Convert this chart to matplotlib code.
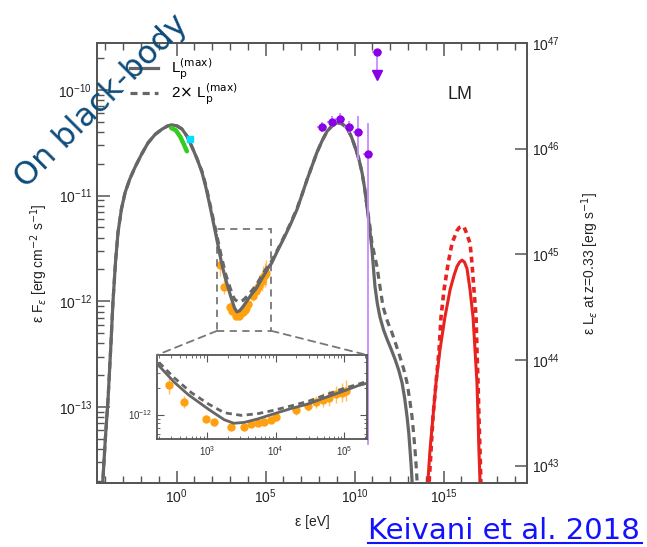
"""
SED of the LM model (Keivani et al. 2018) with the black-body bump.
Values read off the reference picture, stored as log10 values.
"""
import matplotlib
matplotlib.use("Agg")
import matplotlib.pyplot as plt
import numpy as np
from matplotlib.lines import Line2D
from matplotlib.patches import Rectangle, ConnectionPatch
from matplotlib.ticker import FixedLocator, NullLocator, LogLocator, LogFormatterMathtext, NullFormatter

plt.rcParams["font.family"] = ["Liberation Sans", "DejaVu Sans"]

# ---- model curves (log10 eV, log10 erg cm^-2 s^-1) ----
solid_logE = [-4.22, -4.13, -4.00, -3.85, -3.70, -3.57, -3.43, -3.29, -3.10, -2.89, -2.62, -2.33,
              -1.97, -1.60, -1.20, -0.81, -0.50, -0.25, 0.03, 0.31, 0.60, 0.87, 1.15, 1.43,
              1.66, 1.88, 2.10, 2.33, 2.52, 2.72, 3.02, 3.25, 3.39, 3.54, 3.74, 3.98, 4.23,
              4.47, 4.71, 4.96, 5.20, 5.34, 5.65, 5.98, 6.38, 6.77, 7.05, 7.33, 7.61, 7.89,
              8.18, 8.46, 8.74, 9.02, 9.30, 9.58, 9.82, 10.03, 10.24, 10.42, 10.57, 10.70,
              10.85, 10.98, 11.07, 11.15, 11.28, 11.43, 11.63, 11.83, 12.05, 12.28, 12.48,
              12.67, 12.82, 12.95, 13.05, 13.12, 13.18, 13.23, 13.27]
solid_logF = [-13.90, -13.67, -13.30, -12.93, -12.45, -12.00, -11.63, -11.35, -11.13, -10.97, -10.84, -10.73,
              -10.61, -10.50, -10.42, -10.37, -10.34, -10.33, -10.34, -10.37, -10.44, -10.54, -10.65, -10.78,
              -10.93, -11.10, -11.28, -11.47, -11.63, -11.77, -11.94, -12.06, -12.10, -12.09, -12.05, -11.99, -11.93,
              -11.88, -11.81, -11.74, -11.67, -11.64, -11.53, -11.42, -11.28, -11.13, -10.99, -10.85, -10.72, -10.59,
              -10.48, -10.39, -10.34, -10.31, -10.32, -10.36, -10.44, -10.54, -10.65, -10.78, -10.93, -11.10,
              -11.31, -11.51, -11.70, -11.86, -12.02, -12.15, -12.27, -12.36, -12.45, -12.55, -12.65,
              -12.77, -12.92, -13.09, -13.25, -13.41, -13.55, -13.69, -13.90]

dashed_logE = [-4.22, -4.13, -4.00, -3.85, -3.70, -3.57, -3.43, -3.29, -3.10, -2.89, -2.62, -2.33,
               -1.97, -1.60, -1.20, -0.81, -0.50, -0.25, 0.03, 0.31, 0.60, 0.87, 1.15, 1.43,
               1.66, 1.88, 2.10, 2.33, 2.52, 2.77, 3.02, 3.25, 3.50, 3.74, 3.98, 4.23, 4.47,
               4.71, 4.96, 5.34, 5.65, 5.98, 6.38, 6.77, 7.05, 7.33, 7.61, 7.89, 8.18, 8.46,
               8.74, 9.02, 9.30, 9.58, 9.82, 10.03, 10.24, 10.42, 10.57, 10.70, 10.85, 10.98,
               11.12, 11.26, 11.43, 11.60, 11.85, 12.11, 12.33, 12.56, 12.76, 12.95, 13.10,
               13.23, 13.32, 13.40, 13.46, 13.51, 13.56]
dashed_logF = [-13.90, -13.67, -13.30, -12.93, -12.45, -12.00, -11.63, -11.35, -11.13, -10.97, -10.84, -10.73,
               -10.61, -10.50, -10.42, -10.37, -10.34, -10.33, -10.34, -10.37, -10.44, -10.54, -10.65, -10.77,
               -10.91, -11.08, -11.25, -11.43, -11.58, -11.75, -11.88, -11.98, -12.01, -11.99, -11.95, -11.90, -11.85,
               -11.78, -11.71, -11.62, -11.52, -11.41, -11.27, -11.12, -10.99, -10.85, -10.72, -10.59, -10.48, -10.39,
               -10.34, -10.31, -10.32, -10.36, -10.44, -10.54, -10.65, -10.78, -10.93, -11.10, -11.27, -11.45,
               -11.56, -11.67, -11.86, -12.05, -12.19, -12.30, -12.41, -12.53, -12.64, -12.77, -12.93,
               -13.09, -13.25, -13.41, -13.55, -13.69, -13.90]

# black-body (red) component
bb_solid_logE = [14.05, 14.13, 14.24, 14.41, 14.58, 14.80, 15.08, 15.37, 15.60, 15.76, 15.90, 16.04,
                 16.18, 16.32, 16.49, 16.66, 16.77, 16.88, 16.94, 16.99, 17.05, 17.08]
bb_solid_logF = [-13.90, -13.69, -13.41, -13.09, -12.77, -12.46, -12.15, -11.89, -11.75, -11.67, -11.63, -11.61,
                 -11.63, -11.69, -11.89, -12.15, -12.46, -12.77, -13.09, -13.41, -13.69, -13.90]
bb_dashed_logE = [14.12, 14.19, 14.30, 14.41, 14.58, 14.75, 14.86, 15.03, 15.26, 15.48, 15.76, 15.90, 16.04,
                  16.16, 16.26, 16.49, 16.60, 16.71, 16.83, 16.88, 16.94, 16.99, 17.05, 17.10, 17.13]
bb_dashed_logF = [-13.90, -13.72, -13.41, -13.09, -12.77, -12.46, -12.15, -11.89, -11.64, -11.45, -11.33, -11.30, -11.29,
                  -11.30, -11.34, -11.45, -11.64, -11.89, -12.15, -12.46, -12.77, -13.09, -13.41, -13.72, -13.90]

# ---- data points ----
xrt_logE = [2.45, 2.66, 2.99, 3.10, 3.35, 3.53, 3.64, 3.74, 3.83, 3.93, 4.01, 4.30, 4.47,
            4.59, 4.69, 4.78, 4.88, 4.96, 5.03]
xrt_logF = [-11.66, -11.86, -12.05, -12.09, -12.14, -12.14, -12.11, -12.10, -12.08, -12.06, -12.03, -11.95, -11.90,
            -11.86, -11.83, -11.81, -11.77, -11.75, -11.73]
xrt_err = [0.10, 0.07, 0.04, 0.04, 0.03, 0.03, 0.03, 0.03, 0.03, 0.03, 0.04, 0.05, 0.06,
           0.07, 0.08, 0.09, 0.10, 0.11, 0.12]

uvot_logE = [-0.30, -0.05, 0.20, 0.40, 0.58]
uvot_logF = [-10.36, -10.38, -10.44, -10.51, -10.58]
uv2_logE = [0.75]
uv2_logF = [-10.46]

lat_logE = [8.17, 8.74, 9.19, 9.69, 10.20, 10.76]
lat_logF = [-10.35, -10.30, -10.27, -10.35, -10.40, -10.61]
lat_err_lo = [0.05, 0.05, 0.05, 0.06, 0.26, 2.75]
lat_err_hi = [0.05, 0.05, 0.05, 0.06, 0.15, 0.30]
lat_ul_logE = [11.26]
lat_ul_logF = [-9.64]

GRAY = "#666666"
RED = "#e8231f"
PURPLE = "#8a00e6"
LPURPLE = "#c68cff"
ORANGE = "#ffa010"
FRAME = "#555555"


def p(v):
    return 10.0 ** np.asarray(v)


def draw_sed(a, lw=2.3, ms=5):
    # orange X-ray points below the curves
    a.errorbar(p(xrt_logE), p(xrt_logF),
               yerr=[p(xrt_logF) - p(np.array(xrt_logF) - xrt_err), p(np.array(xrt_logF) + xrt_err) - p(xrt_logF)],
               fmt="o", color=ORANGE, ecolor="#ffc060", ms=ms, elinewidth=1, zorder=2)
    a.plot(p(solid_logE), p(solid_logF), color=GRAY, lw=lw, zorder=4)
    a.plot(p(dashed_logE), p(dashed_logF), color=GRAY, lw=lw, ls=(0, (2.2, 1.6)), zorder=4)


fig = plt.figure(figsize=(6.47, 5.47), dpi=100)
ax = fig.add_axes([0.1499, 0.117, 0.6646, 0.8044])
ax.set_xscale("log")
ax.set_yscale("log")
ax.set_xlim(10 ** -4.47, 10 ** 19.69)
ax.set_ylim(10 ** -13.72, 10 ** -9.555)

draw_sed(ax)
ax.plot(p(uvot_logE), p(uvot_logF), "-", color="#33cc22", lw=3.2, zorder=5, solid_capstyle="round")
ax.plot(p(uv2_logE), p(uv2_logF), "s", color="#00dfff", ms=4.5, zorder=5)

ax.plot(p(bb_solid_logE), p(bb_solid_logF), color=RED, lw=2.2, zorder=4)
ax.plot(p(bb_dashed_logE), p(bb_dashed_logF), color=RED, lw=2.6, ls=(0, (1.6, 1.2)), zorder=4)

lat_x = p(lat_logE)
lat_y = p(lat_logF)
ax.errorbar(lat_x, lat_y,
            xerr=[lat_x - p(np.array(lat_logE) - 0.3), p(np.array(lat_logE) + 0.3) - lat_x],
            yerr=[lat_y - p(np.array(lat_logF) - lat_err_lo), p(np.array(lat_logF) + lat_err_hi) - lat_y],
            fmt="o", color=PURPLE, ecolor=LPURPLE, ms=5, elinewidth=1.3, zorder=6)
ul_x = p(lat_ul_logE)
ul_y = p(lat_ul_logF)
ax.errorbar(ul_x, ul_y, xerr=[ul_x - p(np.array(lat_ul_logE) - 0.3), p(np.array(lat_ul_logE) + 0.3) - ul_x],
            fmt="o", color=PURPLE, ecolor=LPURPLE, ms=5, elinewidth=1.3, zorder=6)
ax.plot([ul_x[0], ul_x[0]], [ul_y[0], ul_y[0] * 10 ** -0.2], color=LPURPLE, lw=1.3, zorder=6)
ax.plot(ul_x, ul_y * 10 ** -0.22, "v", color=PURPLE, ms=6.5, zorder=6)

# zoom box + connectors
ins_x = (10 ** 2.27, 10 ** 5.33)
ins_y = (10 ** -12.28, 10 ** -11.32)
ax.add_patch(Rectangle((ins_x[0], ins_y[0]), ins_x[1] - ins_x[0], ins_y[1] - ins_y[0],
                       fill=False, ec="#777777", lw=1.3, ls=(0, (4, 3)), zorder=3))

# ticks / frame
for s in ax.spines.values():
    s.set_color(FRAME)
    s.set_linewidth(1.3)
ax.xaxis.set_major_locator(FixedLocator([1e0, 1e5, 1e10, 1e15]))
ax.xaxis.set_major_formatter(LogFormatterMathtext())
ax.xaxis.set_minor_locator(FixedLocator([10.0 ** k for k in range(-4, 20)]))
ax.xaxis.set_minor_formatter(NullFormatter())
ax.yaxis.set_major_locator(LogLocator(base=10, numticks=20))
ax.yaxis.set_minor_locator(LogLocator(base=10, subs=np.arange(2, 10), numticks=20))
ax.yaxis.set_minor_formatter(NullFormatter())
ax.tick_params(which="both", direction="in", top=True, right=False, colors=FRAME, labelcolor="#222222",
               labelsize=10)
ax.tick_params(which="major", length=9, width=1.1)
ax.tick_params(which="minor", length=5, width=1.0)
ax.set_xlabel("ε [eV]", fontsize=10, color="#222222", labelpad=6)
ax.set_ylabel(r"ε F$_\varepsilon$ [erg cm$^{-2}$ s$^{-1}$]", fontsize=10, color="#222222", labelpad=6)

# right axis (luminosity at z=0.33)
axr = ax.twinx()
axr.set_yscale("log")
axr.set_ylim(10 ** (-13.72 + 56.555), 10 ** (-9.555 + 56.555))
axr.yaxis.set_major_locator(FixedLocator([1e43, 1e44, 1e45, 1e46, 1e47]))
axr.yaxis.set_major_formatter(LogFormatterMathtext())
axr.yaxis.set_minor_locator(NullLocator())
axr.tick_params(direction="in", length=9, width=1.1, colors=FRAME, labelcolor="#222222", labelsize=10)
for s in axr.spines.values():
    s.set_color(FRAME)
    s.set_linewidth(1.3)
axr.set_ylabel(r"ε L$_\varepsilon$ at z=0.33 [erg s$^{-1}$]", fontsize=10, color="#222222", labelpad=14)

ax.text(0.844, 0.882, "LM", transform=ax.transAxes, ha="center", va="center", fontsize=13, color="#222222")

handles = [Line2D([], [], color=GRAY, lw=2.3),
           Line2D([], [], color=GRAY, lw=2.3, ls=(0, (2.2, 1.6)))]
ax.legend(handles, [r"L$_\mathrm{p}^\mathrm{(max)}$", r"2$\times$ L$_\mathrm{p}^\mathrm{(max)}$"],
          loc="upper left", bbox_to_anchor=(0.045, 1.0), frameon=False, fontsize=11,
          handlelength=1.8, labelspacing=0.0, handletextpad=0.9)

# inset
axins = fig.add_axes([0.2427, 0.1974, 0.3246, 0.1536])
axins.set_xscale("log")
axins.set_yscale("log")
axins.set_xlim(*ins_x)
axins.set_ylim(*ins_y)
draw_sed(axins, lw=2.0, ms=5)
axins.xaxis.set_major_locator(FixedLocator([1e3, 1e4, 1e5]))
axins.xaxis.set_major_formatter(LogFormatterMathtext())
axins.xaxis.set_minor_locator(LogLocator(base=10, subs=np.arange(2, 10), numticks=20))
axins.xaxis.set_minor_formatter(NullFormatter())
axins.yaxis.set_major_locator(FixedLocator([1e-12]))
axins.yaxis.set_major_formatter(LogFormatterMathtext())
axins.yaxis.set_minor_locator(LogLocator(base=10, subs=np.arange(2, 10), numticks=20))
axins.yaxis.set_minor_formatter(NullFormatter())
axins.tick_params(which="both", direction="in", top=True, right=True, colors=FRAME, labelcolor="#333333",
                  labelsize=7)
axins.tick_params(which="major", length=5)
axins.tick_params(which="minor", length=2.5)
for s in axins.spines.values():
    s.set_color(FRAME)
    s.set_linewidth(1.3)

for xa, xb in [(ins_x[0], 0.0), (ins_x[1], 1.0)]:
    con = ConnectionPatch(xyA=(xa, ins_y[0]), coordsA="data", axesA=ax,
                          xyB=(xb, 1.0), coordsB="axes fraction", axesB=axins,
                          color="#777777", lw=1.3, ls=(0, (4, 3)))
    fig.add_artist(con)

# slide overlays
fig.text(0.157, 0.815, "On black-body", rotation=45, ha="center", va="center",
         fontsize=23, color="#0d4b7a", family="DejaVu Sans")
fig.text(0.5688, 0.0146, "Keivani et al. 2018", ha="left", va="baseline",
         fontsize=21, color="#1212ff", family="DejaVu Sans")
fig.add_artist(Line2D([0.5688, 0.9923], [0.0073, 0.0073], color="#1212ff", lw=1.5))

fig.savefig("out.png", dpi=100)
